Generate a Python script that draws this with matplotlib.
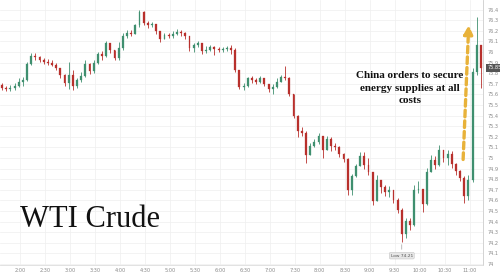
import matplotlib
matplotlib.use("Agg")
import matplotlib.pyplot as plt
from matplotlib.ticker import FixedLocator, FuncFormatter

# 5-minute candles, first one starts at 1:36
start_minute = 96
bar_minutes = 5
first_open = 75.69
closes = [75.66, 75.65, 75.66, 75.68, 75.72, 75.74, 75.89, 75.96, 75.95, 75.92,
          75.91, 75.90, 75.88, 75.85, 75.78, 75.71, 75.78, 75.68, 75.74, 75.77,
          75.89, 75.82, 75.90, 75.98, 75.96, 76.08, 76.02, 75.94, 76.04, 76.15,
          76.18, 76.17, 76.25, 76.38, 76.27, 76.25, 76.26, 76.20, 76.12, 76.16,
          76.15, 76.17, 76.19, 76.18, 76.15, 76.04, 76.07, 76.08, 76.01, 76.02,
          76.05, 76.03, 76.02, 76.03, 76.04, 76.02, 75.83, 75.67, 75.68, 75.75,
          75.74, 75.72, 75.75, 75.70, 75.65, 75.67, 75.72, 75.76, 75.75, 75.60,
          75.40, 75.25, 75.24, 75.03, 75.11, 75.15, 75.21, 75.08, 75.18, 75.11,
          75.10, 75.04, 74.99, 74.70, 74.83, 74.92, 75.02, 74.93, 74.87, 74.59,
          74.79, 74.73, 74.68, 74.70, 74.60, 74.51, 74.28, 74.41, 74.37, 74.70,
          74.71, 74.57, 74.87, 74.98, 74.93, 75.08, 75.00, 75.04, 74.94, 74.88,
          74.81, 74.64, 74.79, 75.81, 76.07, 75.85]
highs = [75.71, 75.68, 75.69, 75.71, 75.75, 75.76, 75.91, 75.99, 75.99, 75.96,
         75.94, 75.93, 75.92, 75.90, 75.85, 75.79, 75.91, 75.83, 75.75, 75.81,
         75.92, 75.90, 75.92, 76.00, 76.01, 76.10, 76.08, 76.02, 76.09, 76.18,
         76.21, 76.21, 76.26, 76.40, 76.39, 76.29, 76.28, 76.26, 76.19, 76.18,
         76.18, 76.20, 76.22, 76.21, 76.19, 76.15, 76.08, 76.10, 76.08, 76.06,
         76.07, 76.06, 76.05, 76.05, 76.06, 76.07, 76.04, 75.83, 75.71, 75.76,
         75.77, 75.75, 75.77, 75.75, 75.70, 75.70, 75.75, 75.78, 75.87, 75.76,
         75.60, 75.41, 75.29, 75.25, 75.14, 75.18, 75.24, 75.21, 75.21, 75.20,
         75.14, 75.11, 75.05, 75.00, 74.85, 74.94, 75.06, 75.06, 75.00, 74.87,
         74.84, 74.76, 74.75, 74.74, 74.70, 74.62, 74.53, 74.43, 74.43, 74.75,
         74.78, 74.70, 74.91, 75.03, 75.02, 75.12, 75.08, 75.08, 75.07, 74.95,
         74.89, 74.83, 74.84, 75.85, 76.33, 76.02]
lows = [75.64, 75.63, 75.63, 75.64, 75.67, 75.68, 75.73, 75.88, 75.92, 75.91,
        75.89, 75.88, 75.87, 75.83, 75.75, 75.68, 75.65, 75.64, 75.66, 75.72,
        75.76, 75.79, 75.80, 75.89, 75.92, 75.95, 75.99, 75.92, 75.92, 76.02,
        76.13, 76.15, 76.17, 76.24, 76.25, 76.23, 76.24, 76.17, 76.09, 76.12,
        76.13, 76.13, 76.16, 76.15, 76.12, 76.01, 76.00, 76.05, 75.98, 75.99,
        76.01, 75.97, 76.00, 76.00, 76.01, 75.98, 75.81, 75.65, 75.64, 75.67,
        75.71, 75.70, 75.71, 75.68, 75.62, 75.60, 75.66, 75.72, 75.74, 75.58,
        75.38, 75.20, 75.21, 74.95, 75.03, 75.10, 75.13, 75.00, 75.08, 75.07,
        75.08, 75.01, 74.96, 74.65, 74.65, 74.82, 74.93, 74.90, 74.84, 74.56,
        74.60, 74.67, 74.64, 74.63, 74.58, 74.48, 74.21, 74.25, 74.32, 74.36,
        74.67, 74.49, 74.56, 74.87, 74.90, 74.92, 74.96, 74.93, 74.91, 74.84,
        74.78, 74.58, 74.60, 74.77, 75.78, 75.66]

tick_minutes = list(range(120, 661, 30))
tick_labels = ["2:00", "2:30", "3:00", "3:30", "4:00", "4:30", "5:00", "5:30",
               "6:00", "6:30", "7:00", "7:30", "8:00", "8:30", "9:00", "9:30",
               "10:00", "10:30", "11:00"]
price_ticks = [74.0, 74.1, 74.2, 74.3, 74.4, 74.5, 74.6, 74.7, 74.8, 74.9,
               75.0, 75.1, 75.2, 75.3, 75.4, 75.5, 75.6, 75.7, 75.8, 75.9,
               76.0, 76.1, 76.2, 76.3, 76.4]
title_text = "WTI Crude"
note_text = "China orders to secure\nenergy supplies at all\ncosts"

UP = "#3f8f6f"
DOWN = "#b8302c"

fig = plt.figure(figsize=(5, 2.75), dpi=100)
fig.patch.set_facecolor("white")
ax = fig.add_axes([0.0, 0.036, 0.966, 0.964])
ax.set_facecolor("white")

opens = [first_open] + closes[:-1]
times = [start_minute + bar_minutes * i + bar_minutes / 2 for i in range(len(closes))]
for t, o, h, l, c in zip(times, opens, highs, lows, closes):
    col = UP if c >= o else DOWN
    hi = max(h, o, c)
    lo = min(l, o, c)
    ax.vlines(t, lo, hi, color=col, linewidth=0.6, zorder=3)
    body = abs(c - o)
    if body < 0.008:
        body = 0.008
    ax.bar(t, body, bottom=min(o, c), width=bar_minutes * 0.45, color=col,
           edgecolor=col, linewidth=0.2, zorder=4)

ax.set_xlim(start_minute, 676)
ax.set_ylim(73.99, 76.49)

ax.xaxis.set_major_locator(FixedLocator(tick_minutes))
ax.set_xticklabels(tick_labels)
ax.yaxis.tick_right()
ax.yaxis.set_major_locator(FixedLocator(price_ticks))
ax.yaxis.set_major_formatter(FuncFormatter(
    lambda v, p: (f"{v:.1f}".rstrip("0").rstrip("."))))
ax.tick_params(axis="both", labelsize=3.6, colors="#8a8a8a", length=0, pad=2)
ax.tick_params(axis="y", pad=3)
ax.tick_params(axis="x", pad=2)
ax.grid(True, color="#efefef", linewidth=0.5, zorder=0)
for side in ["top", "left"]:
    ax.spines[side].set_visible(False)
ax.spines["right"].set_color("#cccccc")
ax.spines["right"].set_linewidth(0.6)
ax.spines["bottom"].set_color("#dddddd")
ax.spines["bottom"].set_linewidth(0.6)

# last price box
ax.annotate(f"{closes[-1]:.2f}", xy=(1.0, closes[-1]),
            xycoords=("axes fraction", "data"), xytext=(3, 0),
            textcoords="offset points", fontsize=3.6, color="white",
            va="center", ha="left",
            bbox=dict(boxstyle="square,pad=0.25", fc="#555555", ec="none"),
            annotation_clip=False)

# low marker
low_idx = min(range(len(lows)), key=lambda i: lows[i])
ax.annotate(f"Low {lows[low_idx]:.2f}", xy=(times[low_idx], lows[low_idx]),
            xytext=(0, -10), textcoords="offset points", fontsize=3.2,
            color="#555555", ha="center", va="center",
            bbox=dict(boxstyle="round,pad=0.3", fc="#e6e6e6", ec="#bbbbbb", lw=0.3),
            arrowprops=dict(arrowstyle="-", color="#888888", lw=0.4))

ax.text(588, 75.66, note_text, fontsize=8, fontfamily="Liberation Serif",
        fontweight="bold", color="#111111", ha="center", va="center",
        linespacing=1.45, zorder=6)
ax.text(204, 74.42, title_text, fontsize=22, fontfamily="Liberation Serif",
        color="#111111", ha="center", va="center", zorder=6)

ax.annotate("", xy=(659, 76.28), xytext=(652, 74.96),
            arrowprops=dict(arrowstyle="-|>,head_width=0.25,head_length=0.5",
                            color="#e8b23a", lw=2.4, linestyle=(0, (2, 1.2))),
            zorder=5)

fig.savefig("out.png", dpi=100, facecolor="white")
